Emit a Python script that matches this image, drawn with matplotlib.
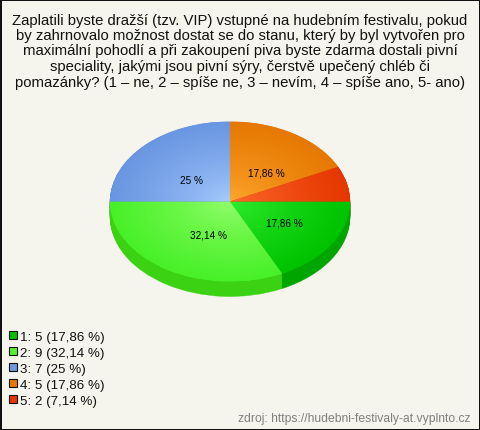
"""
plot.py - pie chart with fake 3D depth and radial gradients, saved as out.png
"""

import numpy as np
import matplotlib
matplotlib.use("Agg")
import matplotlib.pyplot as plt
from matplotlib.colors import LinearSegmentedColormap
from matplotlib.patches import Patch

W, H = 480, 431
BG = "#f5f5ed"
DEPTH = 15  # px of pie thickness

title_lines = [
    "Zaplatili byste dražší (tzv. VIP) vstupné na hudebním festivalu, pokud",
    "by zahrnovalo možnost dostat se do stanu, který by byl vytvořen pro",
    "maximální pohodlí a při zakoupení piva byste zdarma dostali pivní",
    "speciality, jakými jsou pivní sýry, čerstvě upečený chléb či",
    "pomazánky? (1 – ne, 2 – spíše ne, 3 – nevím, 4 – spíše ano, 5- ano)",
]
categories = ["1", "2", "3", "4", "5"]
counts = [5, 9, 7, 5, 2]
percents = ["17,86", "32,14", "25", "17,86", "7,14"]
source = "zdroj: https://hudebni-festivaly-at.vyplnto.cz"

inner_colors = ["#32f032", "#98ff70", "#aaceff", "#ffaa32", "#ff6e32"]
outer_colors = ["#00c300", "#48f028", "#6996e1", "#e67800", "#e63700"]
side_colors = ["#00a500", "#3cd214", "#4f78b8", "#b86000", "#b82c00"]
legend_colors = ["#00c000", "#55f030", "#6f9ae0", "#e67800", "#e63700"]
label_nudge = [(7, 1), (9, 1), (1, 5), (6, 3), (0, 0)]  # px, right/down


def pct_label(pct):
    if pct < 8:
        return ""
    return f"{pct:.2f}".replace(".", ",").replace(",00", "") + " %"


def main():
    plt.rcParams["font.family"] = ["Liberation Sans", "DejaVu Sans"]
    fig = plt.figure(figsize=(W / 100, H / 100), dpi=100, facecolor=BG,
                     edgecolor="#111111", linewidth=2)

    # axes box matches the ellipse of the top face
    ax = fig.add_axes([110 / W, 1 - 282.5 / H, 240 / W, 160 / H])

    # side of the pie: stacked shifted copies, darker colours
    rx, ry = 120, 80
    for d in range(DEPTH, 0, -1):
        wedges, _ = ax.pie(counts, colors=side_colors, startangle=0, counterclock=False,
                           center=(0, -d / ry), radius=1, frame=True)
        for w in wedges:
            w.set_clip_on(False)
            w.set_linewidth(0.3)
            w.set_edgecolor(w.get_facecolor())

    # top face
    wedges, _, autotexts = ax.pie(counts, colors=outer_colors, startangle=0, counterclock=False,
                                  radius=1, autopct=pct_label, pctdistance=0.47, frame=True,
                                  textprops={"fontsize": 7.2, "color": "black", "zorder": 20})
    for t, (dx, dy) in zip(autotexts, label_nudge):
        x, y = t.get_position()
        t.set_position((x + dx / rx, y - dy / ry))
    ax.axis("off")

    yy, xx = np.mgrid[-1:1:320j, -1:1:480j]
    rad = np.clip(np.hypot(xx, yy), 0, 1) ** 0.7
    for w, c0, c1 in zip(wedges, inner_colors, outer_colors):
        w.set_clip_on(False)
        cmap = LinearSegmentedColormap.from_list("g", [c0, c1])
        im = ax.imshow(rad, cmap=cmap, vmin=0, vmax=1, extent=(-1, 1, -1, 1),
                       origin="lower", aspect="auto", zorder=5, interpolation="bilinear")
        im.set_clip_path(w)
    ax.set_aspect("auto")
    ax.set_xlim(-1, 1)
    ax.set_ylim(-1, 1)

    # title
    for i, line in enumerate(title_lines):
        fig.text(0.5, 1 - (20.5 + i * 15.5) / H, line, ha="center", va="center",
                 fontsize=10.7, color="#111111")

    # legend
    handles = [Patch(facecolor=c, edgecolor="#111111", linewidth=0.8) for c in legend_colors]
    labels = [f"{k}: {n} ({p} %)" for k, n, p in zip(categories, counts, percents)]
    fig.legend(handles, labels, loc="upper left", bbox_to_anchor=(6 / W, 1 - 329 / H),
               frameon=False, fontsize=9.6, labelspacing=0.3, handlelength=0.62,
               handleheight=0.62, handletextpad=0.22, borderpad=0.2, borderaxespad=0,
               labelcolor="#111111")

    fig.text(470 / W, 1 - 419.5 / H, source, ha="right", va="center", fontsize=8.7,
             color="#808080")

    fig.savefig("out.png", dpi=100, facecolor=BG, edgecolor="#111111")


if __name__ == "__main__":
    main()
